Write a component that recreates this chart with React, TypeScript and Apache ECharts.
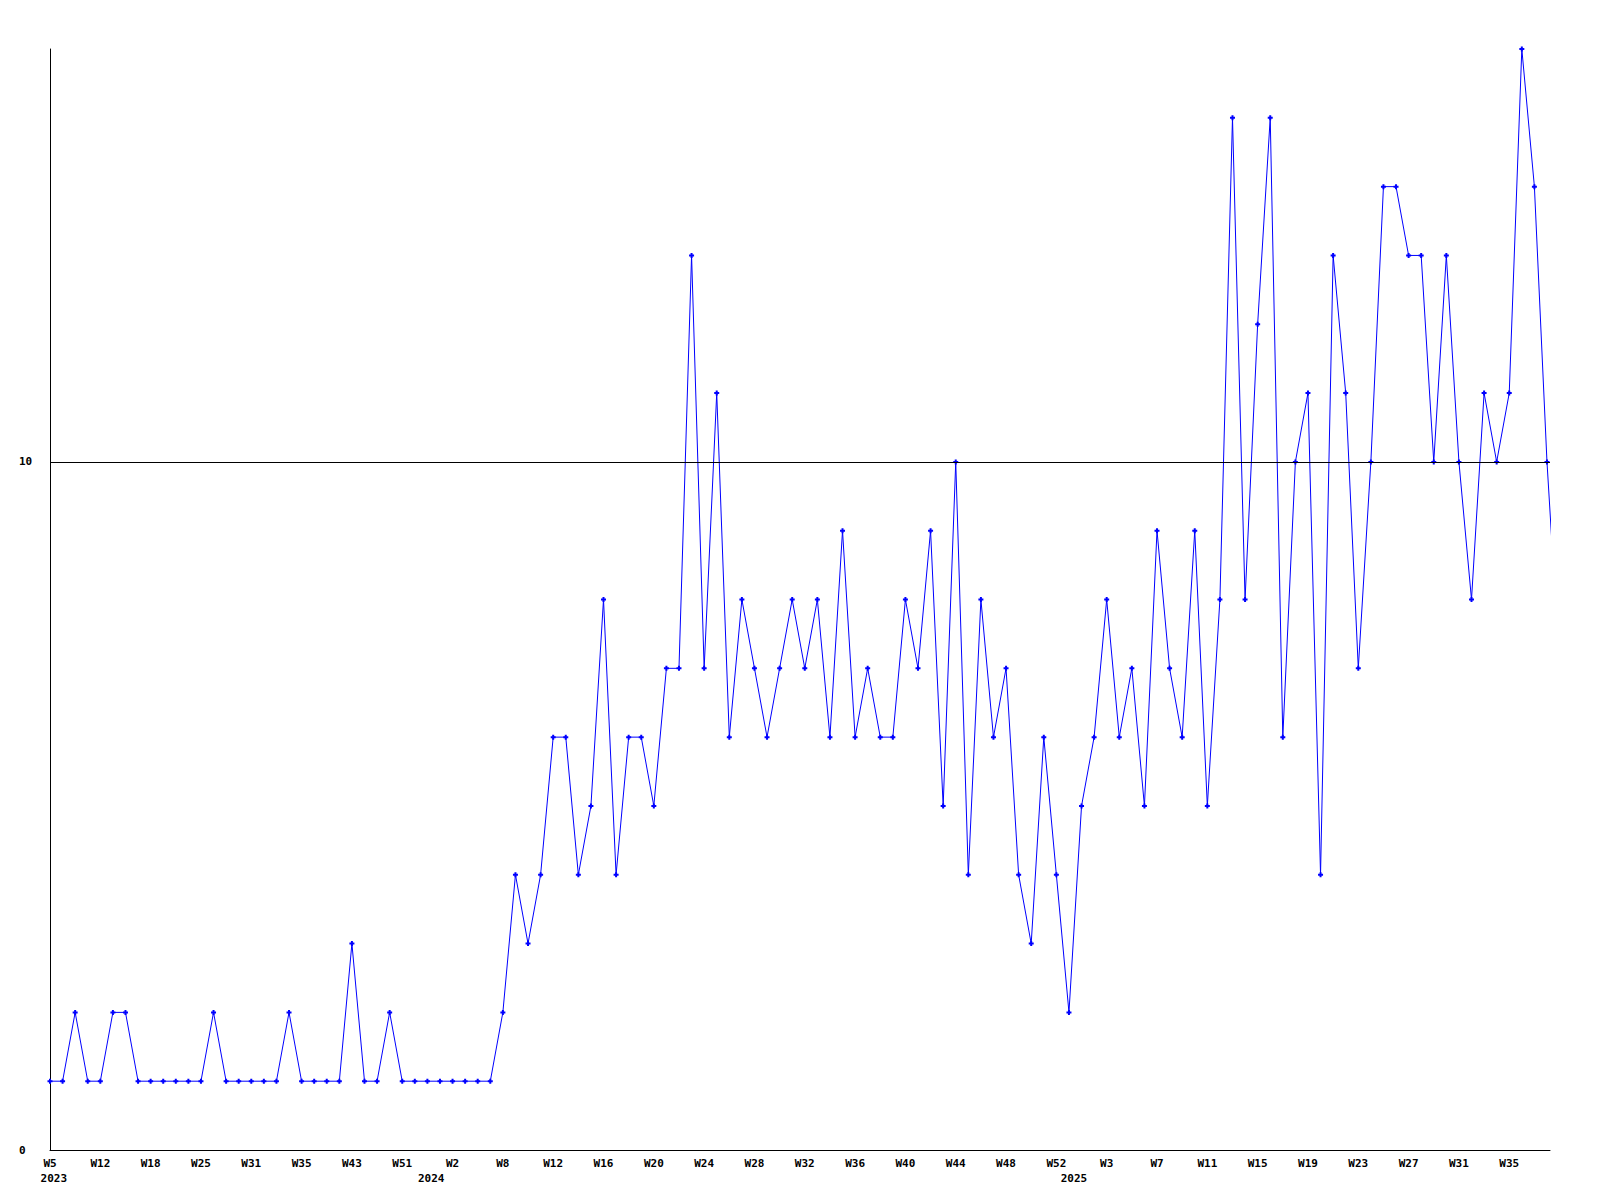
import React, { useEffect, useRef } from "react";
import * as echarts from "echarts";

// Week tick labels, one every 4 points
const weekLabels = [
  "W5", "W12", "W18", "W25", "W31", "W35", "W43", "W51",
  "W2", "W8", "W12", "W16", "W20", "W24", "W28", "W32", "W36", "W40", "W44", "W48", "W52",
  "W3", "W7", "W11", "W15", "W19", "W23", "W27", "W31", "W35",
];
const yearLabels = ["2023", "2024", "2025"];
const yearLabelAt = [0.3, 30.3, 81.4];

// Weekly counts (last value lies beyond the right edge and is clipped)
const values2023 = [1, 1, 2, 1, 1, 2, 2, 1, 1, 1, 1, 1, 1, 2, 1, 1, 1, 1, 1, 2, 1, 1, 1, 1, 3, 1, 1, 2, 1, 1, 1, 1];
const values2024 = [
  1, 1, 1, 1, 2, 4, 3, 4, 6, 6, 4, 5, 8, 4, 6, 6, 5, 7, 7, 13, 7, 11, 6, 8, 7, 6, 7, 8, 7, 8,
  6, 9, 6, 7, 6, 6, 8, 7, 9, 5, 10, 4, 8, 6, 7, 4, 3, 6, 4, 2, 5, 6,
];
const values2025 = [
  8, 6, 7, 5, 9, 7, 6, 9, 5, 8, 15, 8, 12, 15, 6, 10, 11, 4, 13, 11, 7, 10, 14, 14, 13, 13,
  10, 13, 10, 8, 11, 10, 11, 16, 14, 10, 7,
];
const values = [...values2023, ...values2024, ...values2025];

const yMax = 16;
const xMax = 119.24;
const refLine = 10;

const FONT = "DejaVu Sans Mono";

export default function App() {
  const ref = useRef<HTMLDivElement>(null);
  useEffect(() => {
    document.body.style.margin = "0";
    const chart = echarts.init(ref.current!, null, { renderer: "svg" });
    const tickVals = weekLabels.map((_, i) => i * 4);
    chart.setOption({
      animation: false,
      backgroundColor: "#ffffff",
      grid: { left: 50, right: 50, top: 49, bottom: 50, containLabel: false },
      xAxis: [
        {
          type: "value",
          min: 0,
          max: xMax,
          position: "bottom",
          axisLine: { show: true, onZero: false, lineStyle: { color: "#000", width: 1 } },
          axisTick: { show: false },
          splitLine: { show: false },
          axisLabel: {
            customValues: tickVals,
            margin: 8,
            color: "#000",
            fontFamily: FONT,
            fontWeight: "bold",
            fontSize: 11,
            formatter: (v: number) => {
              const i = Math.round(v / 4);
              return weekLabels[i] ?? "";
            },
          },
        },
        {
          type: "value",
          min: 0,
          max: xMax,
          position: "bottom",
          axisLine: { show: false },
          axisTick: { show: false },
          splitLine: { show: false },
          axisLabel: {
            customValues: yearLabelAt,
            margin: 23,
            color: "#000",
            fontFamily: FONT,
            fontWeight: "bold",
            fontSize: 11,
            formatter: (v: number) => {
              const i = yearLabelAt.findIndex((p) => Math.abs(p - v) < 0.01);
              return i >= 0 ? yearLabels[i] : "";
            },
          },
        },
      ],
      yAxis: {
        type: "value",
        min: 0,
        max: yMax,
        axisLine: { show: true, lineStyle: { color: "#000", width: 1 } },
        axisTick: { show: false },
        splitLine: { show: false },
        axisLabel: {
          customValues: [0, refLine],
          align: "left",
          margin: 31,
          color: "#000",
          fontFamily: FONT,
          fontWeight: "bold",
          fontSize: 11,
        },
      },
      series: [
        {
          type: "line",
          xAxisIndex: 0,
          data: values.map((v, i) => [i, v]),
          clip: true,
          symbol:
            "path://M1.5,0 L3.5,0 L3.5,1.5 L5,1.5 L5,3.5 L3.5,3.5 L3.5,5 L1.5,5 L1.5,3.5 L0,3.5 L0,1.5 L1.5,1.5 Z",
          symbolSize: 5,
          showAllSymbol: true,
          itemStyle: { color: "#0000ff" },
          lineStyle: { color: "#0000ff", width: 1 },
          markLine: {
            silent: true,
            symbol: "none",
            label: { show: false },
            lineStyle: { color: "#000", width: 1, type: "solid" },
            data: [{ yAxis: refLine }],
          },
        },
      ],
    });
    return () => chart.dispose();
  }, []);
  return <div ref={ref} style={{ width: 1600, height: 1200 }} />;
}
